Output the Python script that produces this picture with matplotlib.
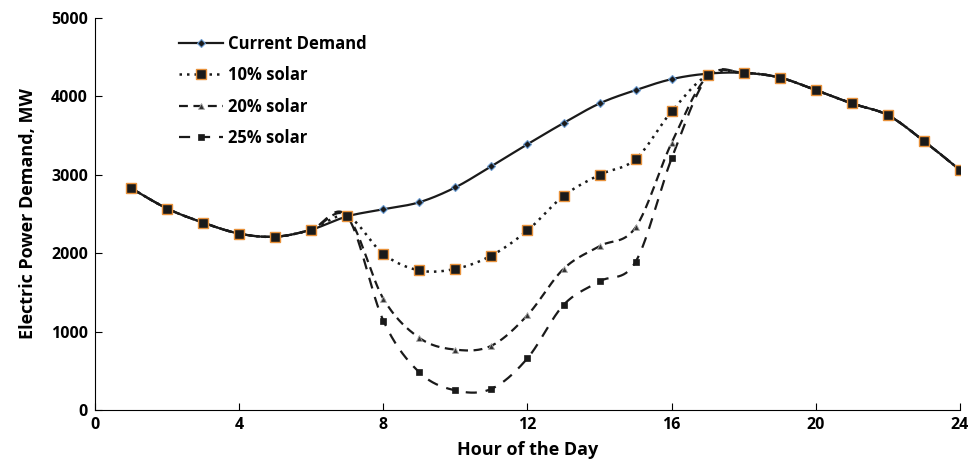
import numpy as np
import matplotlib
matplotlib.use("Agg")
import matplotlib.pyplot as plt
from matplotlib.lines import Line2D

hours = list(range(1, 25))
current = [2830, 2570, 2390, 2250, 2210, 2300, 2470, 2560, 2650, 2840, 3110, 3390,
           3660, 3910, 4080, 4220, 4290, 4300, 4240, 4080, 3910, 3760, 3430, 3060]
solar10 = [2830, 2570, 2390, 2250, 2210, 2300, 2470, 1990, 1780, 1800, 1970, 2290,
           2730, 3000, 3200, 3810, 4270, 4300, 4240, 4080, 3910, 3760, 3430, 3060]
solar20 = [2830, 2570, 2390, 2250, 2210, 2300, 2470, 1420, 920, 770, 820, 1210,
           1800, 2090, 2330, 3410, 4260, 4300, 4240, 4080, 3910, 3760, 3430, 3060]
solar25 = [2830, 2570, 2390, 2250, 2210, 2300, 2470, 1140, 480, 250, 270, 660,
           1340, 1640, 1890, 3210, 4250, 4300, 4240, 4080, 3910, 3760, 3430, 3060]
labels = ["Current Demand", "10% solar", "20% solar", "25% solar"]
xticks = [0, 4, 8, 12, 16, 20, 24]
yticks = [0, 1000, 2000, 3000, 4000, 5000]


def smooth(x, y, n=30):
    x = np.asarray(x, float)
    y = np.asarray(y, float)
    P = np.column_stack([x, y])
    out = []
    N = len(P)
    for i in range(N - 1):
        p0 = P[i - 1] if i > 0 else P[i]
        p1 = P[i]
        p2 = P[i + 1]
        p3 = P[i + 2] if i + 2 < N else P[i + 1]
        c1 = p1 + (p2 - p0) / 6.0
        c2 = p2 - (p3 - p1) / 6.0
        t = np.linspace(0, 1, n, endpoint=(i == N - 2))[:, None]
        seg = ((1 - t) ** 3) * p1 + 3 * ((1 - t) ** 2) * t * c1 + 3 * (1 - t) * t ** 2 * c2 + t ** 3 * p2
        out.append(seg)
    S = np.vstack(out)
    return S[:, 0], S[:, 1]


plt.rcParams['font.family'] = ['Open Sans', 'DejaVu Sans']
plt.rcParams['font.weight'] = 'bold'

fig = plt.figure(figsize=(9.71, 4.71), dpi=100)
ax = fig.add_axes([0.0978, 0.1295, 0.8909, 0.8323])

styles = [
    dict(ls='-', lw=1.6, marker='D', ms=4.5, mfc='#1a1a1a', mec='#6a9bd1', mew=0.8),
    dict(ls=(0, (1, 2)), lw=1.8, marker='s', ms=7.5, mfc='#1a1a1a', mec='#e8913a', mew=1.0),
    dict(ls=(0, (4, 2.5)), lw=1.6, marker='^', ms=5, mfc='#333333', mec='#aaaaaa', mew=0.6),
    dict(ls=(0, (5, 4)), lw=1.6, marker='s', ms=5, mfc='#1a1a1a', mec='#1a1a1a', mew=0.5),
]
series = [current, solar10, solar20, solar25]
zord = [4, 5, 3, 2]

handles = []
for s, st, lab, z in zip(series, styles, labels, zord):
    xs, ys = smooth(hours, s)
    ax.plot(xs, ys, color='#1a1a1a', ls=st['ls'], lw=st['lw'], zorder=z)
    ax.plot(hours, s, ls='none', marker=st['marker'], ms=st['ms'], mfc=st['mfc'],
            mec=st['mec'], mew=st['mew'], zorder=z + 5)
    handles.append(Line2D([], [], color='#1a1a1a', ls=st['ls'], lw=st['lw'], marker=st['marker'],
                          ms=st['ms'] * 0.9, mfc=st['mfc'], mec=st['mec'], mew=st['mew']))

ax.set_xlim(0, 24)
ax.set_ylim(0, 5000)
ax.set_xticks(xticks)
ax.set_yticks(yticks)
ax.tick_params(direction='in', length=5, width=0.8, labelsize=11.5, pad=5)
for lab in ax.get_xticklabels() + ax.get_yticklabels():
    lab.set_fontweight('bold')
ax.spines['top'].set_visible(False)
ax.spines['right'].set_visible(False)
ax.set_xlabel("Hour of the Day", fontsize=13, fontweight='bold', labelpad=6)
ax.set_ylabel("Electric Power Demand, MW", fontsize=13, fontweight='bold', labelpad=10)

leg = ax.legend(handles, labels, loc='upper left', bbox_to_anchor=(0.08, 0.995), frameon=False,
                fontsize=12, handlelength=2.6, labelspacing=0.8, handletextpad=0.3)
for t in leg.get_texts():
    t.set_fontweight('bold')

fig.savefig("out.png", dpi=100)
